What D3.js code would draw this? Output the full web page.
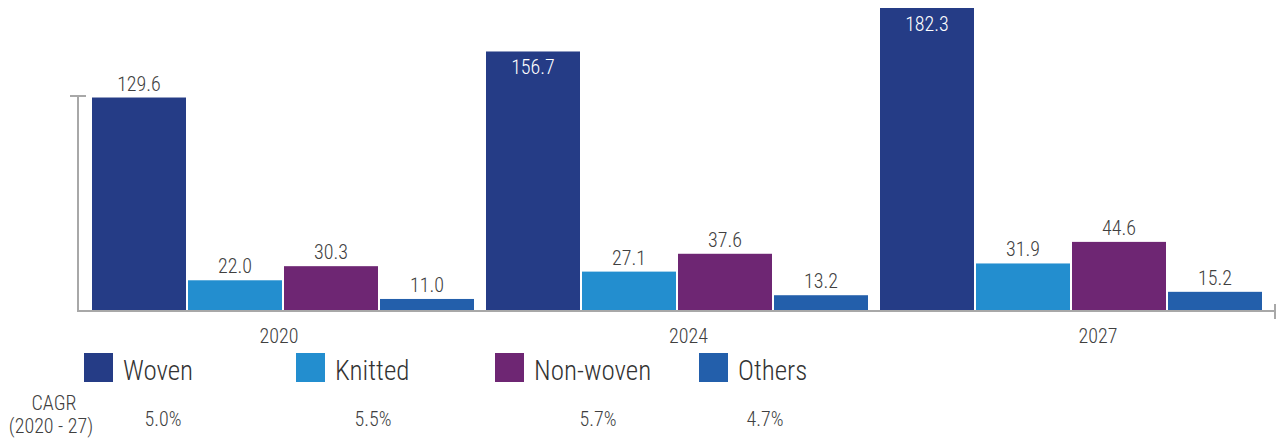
<!DOCTYPE html>
<html>
<head>
<meta charset="utf-8">
<script src="https://cdn.jsdelivr.net/npm/d3@7"></script>
<style>
  body { margin: 0; background: #fff; }
  text { font-family: "Roboto Condensed", "Liberation Sans Narrow", "DejaVu Sans Condensed", sans-serif; font-weight: 300; fill: #404040; }
</style>
</head>
<body>
<div id="chart"></div>
<script>
// data
const years = ["2020", "2024", "2027"]
const series = ["Woven", "Knitted", "Non-woven", "Others"]
const woven = [129.6, 156.7, 182.3]
const knitted = [22.0, 27.1, 31.9]
const nonwoven = [30.3, 37.6, 44.6]
const others = [11.0, 13.2, 15.2]
const cagr = ["5.0%", "5.5%", "5.7%", "4.7%"]
const colors = ["#253c86", "#238ecf", "#6e2673", "#235fab"]

const values = [woven, knitted, nonwoven, others]

var width = 1280,
    height = 444

const svg = d3.select("#chart")
  .append("svg")
    .attr("width", width)
    .attr("height", height)

// scales
const x0 = d3.scaleBand()
    .domain(years)
    .range([92, 1262])
    .paddingInner(12 / 394)

const x1 = d3.scaleBand()
    .domain(series)
    .range([0, x0.bandwidth()])
    .paddingInner(2 / 96)

const y = d3.scaleLinear()
    .domain([4.5, 182.3])
    .range([310, 8])

const color = d3.scaleOrdinal().domain(series).range(colors)

// year labels sit a bit right of the groups
const xLabel = d3.scalePoint()
    .domain(years)
    .range([279, 1098])

// table for bars
const rows = []
years.forEach(function(yr, i) {
  series.forEach(function(s, j) {
    rows.push({ year: yr, key: s, value: values[j][i] })
  })
})

// bars
svg.append("g")
  .selectAll("rect")
  .data(rows)
  .join("rect")
    .attr("x", d => x0(d.year) + x1(d.key))
    .attr("y", d => y(d.value))
    .attr("width", x1.bandwidth())
    .attr("height", d => y.range()[0] - y(d.value))
    .attr("fill", d => color(d.key))

// value labels
const inside = d => d.value > 150
svg.append("g")
  .selectAll("text")
  .data(rows)
  .join("text")
    .attr("x", d => x0(d.year) + x1(d.key) + x1.bandwidth() / 2)
    .attr("y", d => inside(d) ? y(d.value) + 23 : y(d.value) - 7)
    .attr("text-anchor", "middle")
    .style("font-size", "20px")
    .style("fill", d => inside(d) ? "#ffffff" : "#404040")
    .text(d => d.value.toFixed(1))

// axes
const axisColor = "#a8a8a8"
svg.append("line")
    .attr("x1", 78).attr("x2", 1275)
    .attr("y1", 311).attr("y2", 311)
    .attr("stroke", axisColor).attr("stroke-width", 2)
svg.append("line")
    .attr("x1", 1275).attr("x2", 1275)
    .attr("y1", 304).attr("y2", 319)
    .attr("stroke", axisColor).attr("stroke-width", 2)
svg.append("line")
    .attr("x1", 78).attr("x2", 78)
    .attr("y1", 96).attr("y2", 312)
    .attr("stroke", axisColor).attr("stroke-width", 2)
svg.append("line")
    .attr("x1", 70).attr("x2", 86)
    .attr("y1", 96).attr("y2", 96)
    .attr("stroke", axisColor).attr("stroke-width", 2)

// year labels
svg.append("g")
  .selectAll("text")
  .data(years)
  .join("text")
    .attr("x", d => xLabel(d))
    .attr("y", 343)
    .attr("text-anchor", "middle")
    .style("font-size", "20px")
    .text(d => d)

// legend
const legendX = [84, 296, 495, 699]
const legend = svg.append("g")
  .selectAll("g")
  .data(series)
  .join("g")
    .attr("transform", (d, i) => `translate(${legendX[i]},353)`)
legend.append("rect")
    .attr("width", 29)
    .attr("height", 29)
    .attr("fill", d => color(d))
legend.append("text")
    .attr("x", 39)
    .attr("y", 27)
    .style("font-size", "27px")
    .style("fill", "#333333")
    .text(d => d)

// CAGR row
svg.append("text")
    .attr("x", 54).attr("y", 410)
    .attr("text-anchor", "middle")
    .style("font-size", "20px")
    .text("CAGR")
svg.append("text")
    .attr("x", 51).attr("y", 433)
    .attr("text-anchor", "middle")
    .style("font-size", "20px")
    .text("(2020 - 27)")

const cagrX = [163, 373, 598, 765]
svg.append("g")
  .selectAll("text")
  .data(cagr)
  .join("text")
    .attr("x", (d, i) => cagrX[i])
    .attr("y", 426)
    .attr("text-anchor", "middle")
    .style("font-size", "20px")
    .text(d => d)
</script>
</body>
</html>
